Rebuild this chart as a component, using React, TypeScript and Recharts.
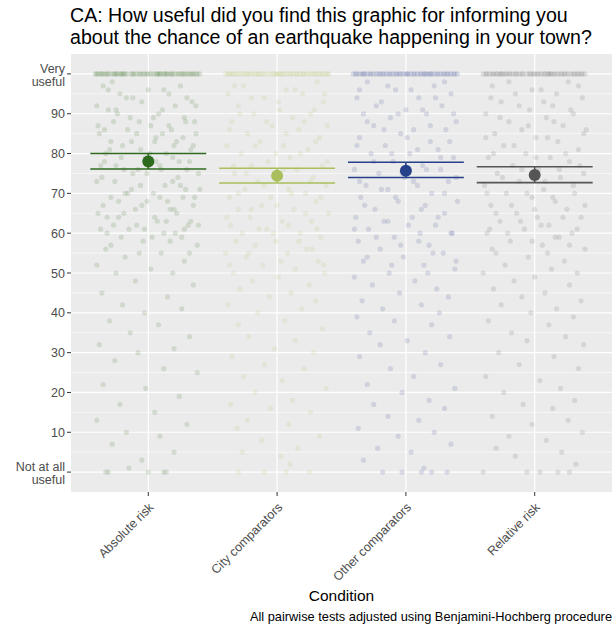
import React from "react";
import {
    ScatterChart,
    Scatter,
    XAxis,
    YAxis,
    CartesianGrid,
    ReferenceLine,
} from "recharts";

const conditions = ["Absolute risk", "City comparators", "Other comparators", "Relative risk"];
const colors = ["#2f6b1f", "#a9bf5b", "#27408a", "#555555"];

// mean rating and its interval for each condition
const means = [78.0, 74.4, 75.7, 74.6];
const ciLow = [76.1, 72.6, 74.0, 72.7];
const ciHigh = [80.0, 76.3, 77.8, 76.7];

const yTicks = [0, 10, 20, 30, 40, 50, 60, 70, 80, 90, 100];
const yMinor = [5, 15, 25, 35, 45, 55, 65, 75, 85, 95];

// individual answers: [jitter, rating]
const absoluteRisk: [number, number][] = [
    [-0.41, 100], [-0.39, 100], [-0.37, 100], [-0.35, 100], [-0.33, 100], [-0.31, 100], [-0.29, 100], [-0.27, 100],
    [-0.24, 100], [-0.22, 100], [-0.2, 100], [-0.18, 100], [-0.16, 100], [-0.13, 100], [-0.11, 100], [-0.09, 100],
    [-0.06, 100], [-0.04, 100], [-0.01, 100], [0.02, 100], [0.04, 100], [0.07, 100], [0.09, 100], [0.12, 100],
    [0.14, 100], [0.17, 100], [0.19, 100], [0.21, 100], [0.24, 100], [0.26, 100], [0.28, 100], [0.31, 100],
    [0.33, 100], [0.35, 100], [0.38, 100], [0.4, 100], [-0.25, 100], [0.15, 100],
    [-0.36, 100], [-0.32, 100], [-0.26, 100], [-0.19, 100], [-0.12, 100], [-0.07, 100], [-0.03, 100], [0.0, 100],
    [0.06, 100], [0.1, 100], [0.13, 100], [0.18, 100], [0.23, 100], [0.27, 100], [0.3, 100], [0.34, 100],
    [0.37, 100], [-0.4, 100], [-0.21, 100], [0.08, 100],
    [-0.35, 97], [0.12, 96], [-0.22, 95], [0.3, 94], [-0.05, 93], [0.21, 92], [-0.31, 91], [0.08, 90],
    [-0.14, 89], [0.36, 88], [-0.27, 88], [0.02, 87], [0.18, 86], [-0.38, 85], [-0.09, 85], [0.27, 84],
    [0.05, 83], [-0.2, 82], [0.33, 81], [-0.33, 80], [0.14, 80], [-0.02, 79], [0.24, 78], [-0.25, 77],
    [0.1, 76], [-0.12, 75], [0.39, 75], [-0.36, 74], [0.19, 73], [-0.06, 72], [0.29, 71], [-0.18, 70],
    [0.04, 70], [-0.29, 69], [0.15, 68], [0.35, 67], [-0.1, 66], [-0.39, 65], [0.22, 65], [-0.23, 64],
    [0.07, 63], [0.31, 62], [-0.15, 61], [-0.32, 60], [0.12, 60], [0.26, 59], [-0.04, 58], [0.38, 57],
    [-0.28, 98], [0.25, 97], [0.0, 96], [-0.17, 94], [0.34, 93], [-0.4, 92], [0.11, 91], [-0.24, 90],
    [0.28, 89], [-0.07, 88], [0.16, 87], [-0.34, 86], [0.37, 85], [0.06, 84], [-0.13, 83], [0.2, 82],
    [-0.3, 81], [0.01, 80], [-0.21, 79], [0.32, 78], [-0.37, 77], [0.09, 77], [-0.08, 76], [0.23, 74],
    [-0.26, 73], [0.13, 72], [0.4, 71], [-0.16, 70], [0.27, 69], [-0.01, 68], [-0.35, 67], [0.17, 66],
    [-0.19, 65], [0.05, 64], [0.33, 63], [-0.27, 62], [-0.03, 61], [0.21, 60],
    [-0.31, 96], [0.16, 95], [-0.12, 94], [0.37, 92], [-0.25, 91], [0.04, 89], [0.29, 88], [-0.39, 87],
    [-0.16, 86], [0.11, 85], [0.22, 83], [-0.29, 83], [0.35, 82], [-0.06, 81], [0.19, 79], [-0.34, 78],
    [0.06, 78], [-0.19, 76], [0.3, 76], [-0.01, 75], [-0.4, 73], [0.25, 72], [-0.13, 71], [0.09, 69],
    [0.36, 69], [-0.23, 68], [-0.05, 67], [0.2, 66], [-0.32, 64], [0.14, 63], [0.39, 62], [-0.09, 62],
    [-0.37, 61], [0.28, 61], [0.03, 59], [-0.21, 59], [0.17, 58], [-0.29, 57], [0.32, 55], [-0.07, 55],
    [-0.33, 56], [0.1, 55], [-0.18, 54], [0.28, 53], [-0.4, 52], [0.02, 51], [0.19, 50], [-0.25, 50],
    [-0.1, 48], [0.35, 47], [-0.36, 45], [0.15, 44], [-0.2, 42], [0.26, 41], [-0.03, 40], [-0.3, 38],
    [0.08, 37], [-0.14, 35], [0.32, 34], [-0.38, 32], [0.2, 31], [-0.08, 30], [-0.26, 28], [0.12, 26],
    [0.38, 25], [-0.35, 22], [-0.02, 21], [0.24, 19], [-0.22, 17], [0.05, 15], [-0.4, 13], [0.3, 12],
    [-0.17, 10], [0.09, 9], [-0.28, 7], [0.2, 5], [-0.05, 3], [-0.33, 0], [-0.31, 0], [0.0, 0],
    [0.12, 0], [0.14, 0], [-0.15, 1],
];

const cityComparators: [number, number][] = [
    [-0.4, 100], [-0.37, 100], [-0.34, 100], [-0.32, 100], [-0.28, 100], [-0.26, 100], [-0.23, 100], [-0.19, 100],
    [-0.17, 100], [-0.14, 100], [-0.12, 100], [-0.08, 100], [-0.05, 100], [-0.03, 100], [0.0, 100], [0.03, 100],
    [0.06, 100], [0.1, 100], [0.13, 100], [0.15, 100], [0.18, 100], [0.2, 100], [0.23, 100], [0.25, 100],
    [0.29, 100], [0.32, 100], [0.34, 100], [0.37, 100], [0.39, 100], [-0.21, 100], [0.08, 100], [0.27, 100],
    [-0.38, 100], [-0.3, 100], [-0.24, 100], [-0.15, 100], [-0.1, 100], [-0.01, 100], [0.04, 100], [0.11, 100],
    [0.16, 100], [0.21, 100], [0.3, 100], [0.35, 100], [0.4, 100], [-0.35, 100], [0.01, 100],
    [0.31, 98], [-0.26, 97], [0.07, 96], [-0.38, 95], [0.2, 95], [-0.1, 94], [0.36, 93], [-0.3, 92],
    [0.02, 91], [0.26, 90], [-0.18, 90], [0.12, 89], [-0.35, 88], [0.39, 87], [-0.04, 87], [0.17, 86],
    [-0.23, 85], [0.33, 84], [-0.13, 83], [0.05, 82], [-0.39, 82], [0.24, 81], [-0.28, 80], [0.1, 79],
    [-0.07, 78], [0.35, 77], [-0.2, 77], [0.15, 76], [-0.33, 75], [0.28, 74], [0.0, 74], [-0.15, 73],
    [0.38, 72], [-0.25, 71], [0.09, 71], [0.22, 70], [-0.37, 69], [-0.05, 69], [0.3, 68], [-0.12, 67],
    [0.13, 66], [-0.3, 66], [0.4, 65], [-0.21, 64], [0.04, 63], [0.27, 63], [-0.36, 62], [-0.08, 61],
    [0.18, 60], [-0.27, 60], [0.34, 59], [-0.01, 58], [-0.17, 57], [0.23, 56], [-0.4, 55], [0.08, 55],
    [-0.24, 54], [0.32, 53], [-0.11, 52], [0.14, 51], [-0.34, 50], [0.37, 50], [0.01, 49], [-0.19, 48],
    [0.25, 47], [-0.29, 46], [0.11, 45], [-0.06, 44], [0.3, 43], [-0.38, 42],
    [-0.33, 97], [0.14, 96], [0.37, 95], [-0.2, 94], [0.01, 93], [0.29, 91], [-0.29, 90], [0.21, 88],
    [-0.08, 88], [-0.37, 86], [0.07, 85], [0.3, 83], [-0.17, 82], [0.18, 80], [-0.01, 80], [0.39, 78],
    [-0.34, 77], [0.05, 76], [-0.24, 75], [0.26, 73], [-0.1, 72], [0.11, 70], [-0.3, 70], [0.34, 69],
    [0.0, 67], [-0.2, 66], [0.22, 65], [-0.39, 64], [0.09, 62], [-0.14, 61], [0.31, 61], [-0.03, 60],
    [-0.32, 58], [0.17, 58], [0.27, 56], [-0.22, 55], [0.03, 53], [0.36, 52], [-0.37, 52],
    [0.19, 41], [-0.15, 40], [0.06, 38], [-0.3, 37], [0.35, 36], [-0.22, 34], [0.14, 33], [-0.02, 31],
    [0.28, 30], [-0.35, 29], [-0.1, 27], [0.21, 26], [-0.26, 24], [0.04, 23], [0.38, 21], [-0.17, 20],
    [0.12, 18], [-0.36, 17], [-0.05, 16], [0.26, 15], [-0.23, 13], [0.09, 12], [-0.31, 11], [0.33, 9],
    [-0.12, 8], [0.16, 6], [-0.27, 5], [0.03, 4], [0.1, 2], [-0.1, 0], [0.07, 0], [-0.3, 0], [0.25, 0],
];

const otherComparators: [number, number][] = [
    [-0.41, 100], [-0.38, 100], [-0.36, 100], [-0.33, 100], [-0.3, 100], [-0.28, 100], [-0.25, 100], [-0.23, 100],
    [-0.2, 100], [-0.17, 100], [-0.15, 100], [-0.12, 100], [-0.1, 100], [-0.07, 100], [-0.04, 100], [-0.02, 100],
    [0.01, 100], [0.04, 100], [0.06, 100], [0.09, 100], [0.11, 100], [0.14, 100], [0.16, 100], [0.19, 100],
    [0.22, 100], [0.24, 100], [0.27, 100], [0.29, 100], [0.32, 100], [0.35, 100], [0.37, 100], [0.4, 100],
    [-0.32, 100], [-0.08, 100], [0.18, 100], [0.3, 100],
    [-0.39, 100], [-0.34, 100], [-0.27, 100], [-0.21, 100], [-0.13, 100], [-0.05, 100], [0.0, 100], [0.07, 100],
    [0.12, 100], [0.2, 100], [0.25, 100], [0.33, 100], [0.38, 100], [-0.18, 100], [0.15, 100], [0.02, 100],
    [-0.3, 98], [0.22, 97], [-0.08, 96], [0.35, 95], [-0.38, 94], [0.1, 94], [-0.19, 93], [0.28, 92],
    [0.0, 91], [-0.33, 90], [0.16, 90], [-0.12, 89], [0.39, 88], [-0.25, 87], [0.06, 86], [0.31, 86],
    [-0.04, 85], [-0.36, 84], [0.19, 83], [-0.16, 82], [0.25, 81], [-0.27, 80], [0.03, 80], [0.37, 79],
    [-0.1, 78], [0.13, 77], [-0.4, 76], [0.27, 76], [-0.21, 75], [-0.01, 74], [0.33, 73], [-0.31, 72],
    [0.09, 72], [-0.14, 71], [0.2, 70], [-0.35, 69], [0.4, 68], [-0.06, 68], [0.15, 67], [-0.24, 66],
    [0.3, 65], [-0.39, 64], [0.05, 64], [-0.17, 63], [0.23, 62], [-0.29, 61], [0.11, 60], [0.36, 60],
    [-0.09, 59], [-0.37, 58], [0.18, 57], [-0.2, 56], [0.29, 55], [-0.02, 54], [-0.33, 53], [0.14, 52],
    [0.38, 51], [-0.13, 50], [-0.4, 49], [0.07, 48], [-0.26, 47], [0.24, 46], [-0.05, 45], [0.33, 44],
    [-0.34, 43], [0.12, 42], [-0.18, 41], [0.26, 40],
    [0.3, 98], [-0.14, 97], [0.04, 96], [-0.36, 96], [0.23, 94], [-0.23, 92], [0.13, 91], [0.37, 90],
    [-0.06, 90], [-0.3, 88], [0.19, 87], [-0.17, 86], [0.01, 84], [0.34, 83], [-0.38, 82], [0.09, 81],
    [-0.11, 80], [0.27, 79], [-0.25, 78], [0.16, 76], [-0.03, 75], [0.39, 74], [-0.36, 73], [0.06, 73],
    [-0.19, 71], [0.3, 70], [-0.08, 69], [-0.32, 67], [0.12, 66], [0.25, 64], [-0.14, 63], [0.02, 62],
    [-0.4, 61], [0.35, 60], [-0.23, 59], [0.1, 58], [-0.04, 57], [0.21, 55], [-0.3, 54], [0.39, 53],
    [-0.11, 52], [0.17, 50],
    [-0.38, 39], [-0.09, 38], [0.2, 37], [-0.28, 35], [0.34, 34], [0.01, 33], [-0.2, 32], [0.15, 30],
    [-0.36, 29], [0.27, 27], [-0.12, 26], [0.06, 24], [-0.3, 22], [0.38, 21], [-0.03, 20], [0.18, 18],
    [-0.25, 17], [0.3, 16], [-0.14, 14], [0.1, 13], [-0.37, 11], [0.22, 10], [-0.06, 9], [0.35, 7],
    [-0.22, 6], [0.04, 5], [-0.33, 3], [0.14, 1], [-0.03, 0], [-0.18, 0], [0.2, 0], [0.32, 0], [0.12, 0],
];

const relativeRisk: [number, number][] = [
    [-0.4, 100], [-0.38, 100], [-0.35, 100], [-0.33, 100], [-0.3, 100], [-0.27, 100], [-0.25, 100], [-0.22, 100],
    [-0.19, 100], [-0.17, 100], [-0.14, 100], [-0.12, 100], [-0.09, 100], [-0.06, 100], [-0.03, 100], [-0.01, 100],
    [0.02, 100], [0.05, 100], [0.08, 100], [0.1, 100], [0.13, 100], [0.16, 100], [0.18, 100], [0.21, 100],
    [0.23, 100], [0.26, 100], [0.28, 100], [0.31, 100], [0.34, 100], [0.36, 100], [0.39, 100], [-0.2, 100],
    [0.0, 100], [0.12, 100], [-0.32, 100], [0.3, 100],
    [-0.37, 100], [-0.29, 100], [-0.23, 100], [-0.15, 100], [-0.1, 100], [-0.04, 100], [0.03, 100], [0.07, 100],
    [0.15, 100], [0.2, 100], [0.24, 100], [0.33, 100], [0.37, 100], [-0.26, 100], [0.11, 100],
    [0.26, 98], [-0.33, 97], [0.05, 96], [-0.15, 95], [0.37, 94], [-0.26, 93], [0.14, 92], [-0.04, 91],
    [0.3, 90], [-0.38, 90], [0.09, 89], [-0.2, 88], [0.22, 87], [-0.1, 86], [0.4, 86], [-0.31, 85],
    [0.01, 84], [0.18, 83], [-0.24, 82], [0.34, 81], [-0.07, 80], [-0.36, 79], [0.12, 79], [0.27, 78],
    [-0.17, 77], [0.03, 76], [-0.29, 75], [0.38, 75], [0.2, 74], [-0.12, 73], [-0.39, 72], [0.07, 71],
    [0.31, 70], [-0.22, 70], [-0.02, 69], [0.16, 68], [-0.34, 67], [0.25, 66], [-0.14, 65], [0.36, 64],
    [0.02, 64], [-0.27, 63], [0.11, 62], [-0.08, 61], [0.29, 60], [-0.37, 60], [0.19, 59], [-0.19, 58],
    [0.06, 57], [0.39, 56], [-0.3, 55], [-0.05, 54], [0.23, 53], [-0.23, 52], [0.13, 51], [-0.4, 50],
    [0.33, 50], [0.0, 49], [-0.16, 48], [0.27, 47], [-0.32, 46], [0.08, 45], [-0.1, 44], [0.36, 43],
    [-0.26, 42], [0.17, 41], [-0.03, 40],
    [-0.2, 98], [0.34, 97], [-0.02, 96], [0.17, 95], [-0.34, 94], [0.07, 93], [-0.12, 92], [0.28, 91],
    [-0.27, 89], [0.15, 88], [-0.05, 87], [0.38, 85], [-0.38, 84], [0.1, 84], [-0.16, 82], [0.24, 80],
    [-0.32, 80], [0.01, 79], [0.35, 77], [-0.1, 76], [0.19, 76], [-0.25, 74], [0.08, 73], [0.3, 72],
    [-0.37, 70], [-0.06, 70], [0.14, 69], [-0.18, 67], [0.39, 67], [0.0, 66], [-0.3, 65], [0.22, 64],
    [-0.11, 63], [0.05, 62], [-0.35, 61], [0.33, 61], [-0.21, 60], [0.16, 59], [-0.02, 58], [0.27, 57],
    [-0.33, 56], [0.1, 55],
    [0.3, 39], [-0.36, 38], [0.11, 37], [-0.18, 35], [0.24, 34], [-0.06, 33], [0.38, 32], [-0.28, 30],
    [0.15, 29], [-0.12, 27], [0.34, 26], [-0.38, 24], [0.04, 23], [0.2, 21], [-0.24, 20], [0.31, 18],
    [-0.09, 17], [0.14, 16], [-0.33, 14], [0.26, 13], [-0.02, 12], [0.37, 10], [-0.2, 9], [0.09, 8],
    [-0.3, 6], [0.21, 5], [-0.15, 4], [0.32, 2], [-0.4, 0], [-0.06, 0], [0.04, 0], [0.18, 0], [0.27, 0],
];

const responses = [absoluteRisk, cityComparators, otherComparators, relativeRisk];

const FONT = "'Liberation Sans', Arial, Helvetica, sans-serif";
const HALF = 0.45;

const YTick = (props: any) => {
    const { x, y, payload } = props;
    const v = payload.value;
    const common = { x: x, textAnchor: "end" as const, fill: "#4d4d4d", fontSize: 12.5, fontFamily: FONT };
    if (v === 100) {
        return (
            <g>
                <text {...common} y={y - 1}>Very</text>
                <text {...common} y={y + 12}>useful</text>
            </g>
        );
    }
    if (v === 0) {
        return (
            <g>
                <text {...common} y={y - 1}>Not at all</text>
                <text {...common} y={y + 12}>useful</text>
            </g>
        );
    }
    return <text {...common} y={y + 4.5}>{v}</text>;
};

const XTick = (props: any) => {
    const { x, y, payload } = props;
    const label = conditions[payload.value - 1];
    const ax = x + 6;
    const ay = y + 10;
    return (
        <text
            x={ax}
            y={ay}
            transform={`rotate(-45 ${ax} ${ay})`}
            textAnchor="end"
            fill="#4d4d4d"
            fontSize={12.5}
            fontFamily={FONT}
        >
            {label}
        </text>
    );
};

const Dot = (color: string, r: number, opacity: number) => (props: any) => {
    const { cx, cy } = props;
    return <circle cx={cx} cy={cy} r={r} fill={color} fillOpacity={opacity} />;
};

const App: React.FC = () => {
    return (
        <div style={{ position: "absolute", left: 0, top: 0, width: 616, height: 629, background: "#fff", fontFamily: FONT }}>
            <div style={{ position: "absolute", left: 70, top: 4, fontSize: 19.6, lineHeight: "22px", color: "#000", whiteSpace: "nowrap" }}>
                CA: How useful did you find this graphic for informing you
                <br />
                about the chance of an earthquake happening in your town?
            </div>
            <ScatterChart width={616} height={629} margin={{ top: 54, right: 4, bottom: 0, left: 8 }}>
                <CartesianGrid
                    fill="#ebebeb"
                    stroke="#ffffff"
                    strokeWidth={0.6}
                    horizontalValues={yMinor}
                    vertical={false}
                />
                <CartesianGrid
                    stroke="#ffffff"
                    strokeWidth={1.2}
                    horizontalValues={yTicks}
                    verticalValues={[1, 2, 3, 4]}
                />
                <XAxis
                    type="number"
                    dataKey="x"
                    domain={[0.4, 4.6]}
                    ticks={[1, 2, 3, 4]}
                    interval={0}
                    allowDataOverflow
                    axisLine={false}
                    tickLine={{ stroke: "#333333" }}
                    tickSize={4}
                    height={137}
                    tick={<XTick />}
                />
                <YAxis
                    type="number"
                    dataKey="y"
                    domain={[-5, 105]}
                    ticks={yTicks}
                    interval={0}
                    allowDataOverflow
                    axisLine={false}
                    tickLine={{ stroke: "#333333" }}
                    tickSize={4}
                    width={63}
                    tick={<YTick />}
                />
                {responses.map((pts, i) => (
                    <Scatter
                        key={conditions[i]}
                        data={pts.map(([j, v]) => ({ x: i + 1 + j, y: v }))}
                        shape={Dot(colors[i], 2.6, 0.14)}
                        isAnimationActive={false}
                    />
                ))}
                {means.map((m, i) => (
                    <ReferenceLine
                        key={"lo" + i}
                        segment={[{ x: i + 1 - HALF, y: ciLow[i] }, { x: i + 1 + HALF, y: ciLow[i] }]}
                        stroke={colors[i]}
                        strokeWidth={1.6}
                    />
                ))}
                {means.map((m, i) => (
                    <ReferenceLine
                        key={"hi" + i}
                        segment={[{ x: i + 1 - HALF, y: ciHigh[i] }, { x: i + 1 + HALF, y: ciHigh[i] }]}
                        stroke={colors[i]}
                        strokeWidth={1.6}
                    />
                ))}
                {means.map((m, i) => (
                    <ReferenceLine
                        key={"v" + i}
                        segment={[{ x: i + 1, y: ciLow[i] }, { x: i + 1, y: ciHigh[i] }]}
                        stroke={colors[i]}
                        strokeWidth={1.6}
                    />
                ))}
                <Scatter
                    data={means.map((m, i) => ({ x: i + 1, y: m, c: colors[i] }))}
                    shape={(p: any) => <circle cx={p.cx} cy={p.cy} r={6} fill={p.payload?.c ?? p.c} />}
                    isAnimationActive={false}
                />
            </ScatterChart>
            <div style={{ position: "absolute", left: 71, width: 541, top: 587, textAlign: "center", fontSize: 15.5, color: "#000" }}>
                Condition
            </div>
            <div style={{ position: "absolute", right: 4, top: 609, fontSize: 12.8, color: "#000", whiteSpace: "nowrap" }}>
                All pairwise tests adjusted using Benjamini-Hochberg procedure
            </div>
        </div>
    );
};

export default App;
